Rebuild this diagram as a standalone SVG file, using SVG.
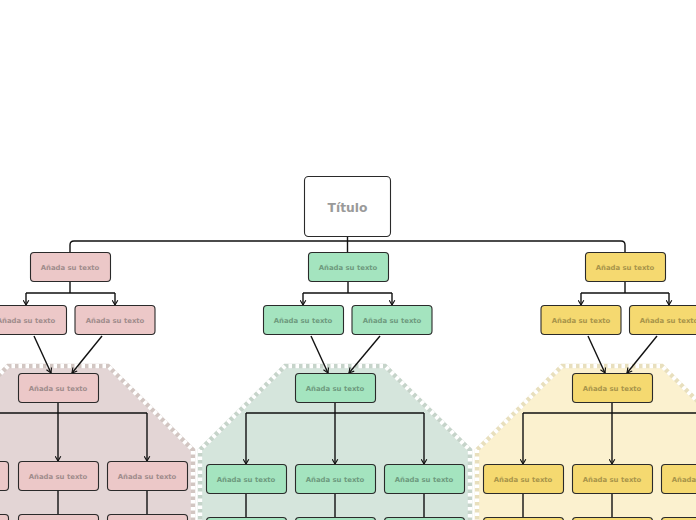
<svg xmlns="http://www.w3.org/2000/svg" width="696" height="520" viewBox="0 0 696 520">
<style>
.t{font-family:"DejaVu Sans",sans-serif;font-weight:bold;font-size:6.9px;text-anchor:middle}
.title{font-family:"DejaVu Sans",sans-serif;font-weight:bold;font-size:12.3px;text-anchor:middle;fill:#9a9a9a}
.n{stroke:#2a2a2a;stroke-width:1.1}
.p rect{fill:#ecc8c8}.p text{fill:#a08c8c}
.g rect{fill:#a4e4bf}.g text{fill:#6e9a7e}
.y rect{fill:#f5d970}.y text{fill:#a8944a}
.c{fill:none;stroke:#111;stroke-width:1.4}
.a{marker-end:url(#arr)}
.zd{fill:none;stroke:#fff;stroke-width:4.5;stroke-dasharray:3.5 3.5}
</style>
<defs>
<marker id="arr" viewBox="0 0 8 8" refX="6.5" refY="4" markerWidth="7" markerHeight="7" markerUnits="userSpaceOnUse" orient="auto">
<path d="M1,0.8 L6.5,4 L1,7.2" fill="none" stroke="#111" stroke-width="1.3"/>
</marker>
</defs>
<rect width="696" height="520" fill="#fff"/>
<g id="zones">
<path d="M-77,530 V450 L8,366 H108 L193,450 V530 Z" fill="#e3d5d5" stroke="#d2c6c2" stroke-width="4.5"/>
<path class="zd" d="M-77,530 V450 L8,366 H108 L193,450 V530 Z"/>
<path d="M200,530 V450 L285,366 H385 L470,450 V530 Z" fill="#d5e5dc" stroke="#c6d4ca" stroke-width="4.5"/>
<path class="zd" d="M200,530 V450 L285,366 H385 L470,450 V530 Z"/>
<path d="M477,530 V450 L562,366 H662 L747,450 V530 Z" fill="#fbf1cf" stroke="#e8dfbd" stroke-width="4.5"/>
<path class="zd" d="M477,530 V450 L562,366 H662 L747,450 V530 Z"/>
</g>
<g id="connectors">
<path class="c" d="M347.5,237 V252 M70,252 V245 Q70,241 74,241 H621 Q625,241 625,245 V252"/>
<path class="c" d="M70,282 V293 M26,293 H115"/>
<path class="c a" d="M26,293 V305"/><path class="c a" d="M115,293 V305"/>
<path class="c" d="M348,282 V293 M303,293 H392"/>
<path class="c a" d="M303,293 V305"/><path class="c a" d="M392,293 V305"/>
<path class="c" d="M625,282 V293 M581,293 H669"/>
<path class="c a" d="M581,293 V305"/><path class="c a" d="M669,293 V305"/>
<path class="c a" d="M34,336 L51,373"/><path class="c a" d="M102,336 L72,373"/>
<path class="c a" d="M311,336 L328,373"/><path class="c a" d="M380,336 L349,373"/>
<path class="c a" d="M588,336 L605,373"/><path class="c a" d="M657,336 L627,373"/>
<path class="c" d="M58,403 V413 M-31,413 H147"/>
<path class="c a" d="M-31,413 V461"/><path class="c a" d="M58,413 V461"/><path class="c a" d="M147,413 V461"/>
<path class="c" d="M335,403 V413 M246,413 H424"/>
<path class="c a" d="M246,413 V464"/><path class="c a" d="M335,413 V464"/><path class="c a" d="M424,413 V464"/>
<path class="c" d="M612,403 V413 M523,413 H701"/>
<path class="c a" d="M523,413 V464"/><path class="c a" d="M612,413 V464"/><path class="c a" d="M701,413 V464"/>
<path class="c" d="M-31,491 V514 M58,491 V514 M147,491 V514"/>
<path class="c" d="M246,494 V517 M335,494 V517 M424,494 V517"/>
<path class="c" d="M523,494 V517 M612,494 V517 M701,494 V517"/>
</g>
<g id="title"><rect class="n" x="304.5" y="176.5" width="86" height="60" rx="4" fill="#fff"/><text class="title" x="347.5" y="211.5">Título</text></g>
<g id="p1" class="p"><rect class="n" x="30.5" y="252.5" width="80" height="29" rx="3.5"/><text class="t" x="70" y="269.5">Añada su texto</text></g>
<g id="g1" class="g"><rect class="n" x="308.5" y="252.5" width="80" height="29" rx="3.5"/><text class="t" x="348" y="269.5">Añada su texto</text></g>
<g id="y1" class="y"><rect class="n" x="585.5" y="252.5" width="80" height="29" rx="3.5"/><text class="t" x="625" y="269.5">Añada su texto</text></g>
<g id="p2a" class="p"><rect class="n" x="-14.5" y="305.5" width="81" height="29" rx="3.5"/><text class="t" x="26" y="322.5">Añada su texto</text></g>
<g id="p2b" class="p"><rect class="n" x="75" y="305.5" width="80" height="29" rx="3.5"/><text class="t" x="115" y="322.5">Añada su texto</text></g>
<g id="g2a" class="g"><rect class="n" x="263.5" y="305.5" width="80" height="29" rx="3.5"/><text class="t" x="303" y="322.5">Añada su texto</text></g>
<g id="g2b" class="g"><rect class="n" x="352" y="305.5" width="80" height="29" rx="3.5"/><text class="t" x="392" y="322.5">Añada su texto</text></g>
<g id="y2a" class="y"><rect class="n" x="541" y="305.5" width="80" height="29" rx="3.5"/><text class="t" x="581" y="322.5">Añada su texto</text></g>
<g id="y2b" class="y"><rect class="n" x="629.5" y="305.5" width="80" height="29" rx="3.5"/><text class="t" x="669" y="322.5">Añada su texto</text></g>
<g id="p3" class="p"><rect class="n" x="18.5" y="373.5" width="80" height="29" rx="3.5"/><text class="t" x="58" y="390.5">Añada su texto</text></g>
<g id="g3" class="g"><rect class="n" x="295.5" y="373.5" width="80" height="29" rx="3.5"/><text class="t" x="335" y="390.5">Añada su texto</text></g>
<g id="y3" class="y"><rect class="n" x="572.5" y="373.5" width="80" height="29" rx="3.5"/><text class="t" x="612" y="390.5">Añada su texto</text></g>
<g id="p4a" class="p"><rect class="n" x="-71.5" y="461.5" width="80" height="29" rx="3.5"/><text class="t" x="-31" y="478.5">Añada su texto</text></g>
<g id="p4b" class="p"><rect class="n" x="18.5" y="461.5" width="80" height="29" rx="3.5"/><text class="t" x="58" y="478.5">Añada su texto</text></g>
<g id="p4c" class="p"><rect class="n" x="107.5" y="461.5" width="80" height="29" rx="3.5"/><text class="t" x="147" y="478.5">Añada su texto</text></g>
<g id="g4a" class="g"><rect class="n" x="206.5" y="464.5" width="80" height="29" rx="3.5"/><text class="t" x="246" y="481.5">Añada su texto</text></g>
<g id="g4b" class="g"><rect class="n" x="295.5" y="464.5" width="80" height="29" rx="3.5"/><text class="t" x="335" y="481.5">Añada su texto</text></g>
<g id="g4c" class="g"><rect class="n" x="384.5" y="464.5" width="80" height="29" rx="3.5"/><text class="t" x="424" y="481.5">Añada su texto</text></g>
<g id="y4a" class="y"><rect class="n" x="483.5" y="464.5" width="80" height="29" rx="3.5"/><text class="t" x="523" y="481.5">Añada su texto</text></g>
<g id="y4b" class="y"><rect class="n" x="572.5" y="464.5" width="80" height="29" rx="3.5"/><text class="t" x="612" y="481.5">Añada su texto</text></g>
<g id="y4c" class="y"><rect class="n" x="661.5" y="464.5" width="80" height="29" rx="3.5"/><text class="t" x="701" y="481.5">Añada su texto</text></g>
<g id="p5a" class="p"><rect class="n" x="-71.5" y="514.5" width="80" height="29" rx="3.5"/></g>
<g id="p5b" class="p"><rect class="n" x="18.5" y="514.5" width="80" height="29" rx="3.5"/></g>
<g id="p5c" class="p"><rect class="n" x="107.5" y="514.5" width="80" height="29" rx="3.5"/></g>
<g id="g5a" class="g"><rect class="n" x="206.5" y="517.5" width="80" height="29" rx="3.5"/></g>
<g id="g5b" class="g"><rect class="n" x="295.5" y="517.5" width="80" height="29" rx="3.5"/></g>
<g id="g5c" class="g"><rect class="n" x="384.5" y="517.5" width="80" height="29" rx="3.5"/></g>
<g id="y5a" class="y"><rect class="n" x="483.5" y="517.5" width="80" height="29" rx="3.5"/></g>
<g id="y5b" class="y"><rect class="n" x="572.5" y="517.5" width="80" height="29" rx="3.5"/></g>
<g id="y5c" class="y"><rect class="n" x="661.5" y="517.5" width="80" height="29" rx="3.5"/></g>
</svg>
